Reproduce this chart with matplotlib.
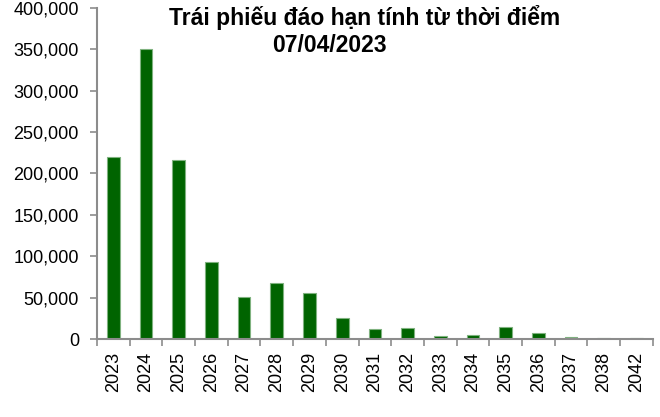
import numpy as np
import matplotlib.pyplot as plt
from matplotlib.ticker import FuncFormatter

plt.rcParams['font.family'] = ['Liberation Sans', 'DejaVu Sans']

# du lieu doc tu hinh
years = ['2023', '2024', '2025', '2026', '2027', '2028', '2029', '2030', '2031',
         '2032', '2033', '2034', '2035', '2036', '2037', '2038', '2042']
values = [219500, 350000, 216600, 93400, 50400, 67600, 55200, 25300, 11700,
          12900, 3200, 4800, 14500, 6900, 2400, 1000, 1000]
title_line1 = 'Trái phiếu đáo hạn tính từ thời điểm'
title_line2 = '07/04/2023'

bar_color = '#006400'
edge_color = '#7fb27f'
axis_color = '#8c8c8c'

fig = plt.figure(figsize=(6.6, 4.17), dpi=100)
ax = fig.add_axes([0.147, 0.187, 0.842, 0.794])

x = np.arange(len(years))
ax.bar(x, values, width=0.39, color=bar_color, edgecolor=edge_color, linewidth=0.8)

ax.set_xlim(-0.5, len(years) - 0.5)
ax.set_ylim(0, 400000)
ax.set_yticks(np.arange(0, 400001, 50000))
ax.yaxis.set_major_formatter(FuncFormatter(lambda v, p: f'{int(v):,}'))

# nhan o giua, vach chia o ranh gioi giua cac cot
ax.set_xticks(x)
ax.set_xticklabels(years, rotation=90)
ax.set_xticks(np.arange(-0.5, len(years)), minor=True)
ax.tick_params(axis='x', which='major', length=0, labelsize=13, pad=9)
ax.tick_params(axis='x', which='minor', length=5, width=1.2, color=axis_color)
ax.tick_params(axis='y', length=5, width=1.2, color=axis_color, labelsize=13, pad=8)

for s in ['top', 'right']:
    ax.spines[s].set_visible(False)
for s in ['left', 'bottom']:
    ax.spines[s].set_color(axis_color)
    ax.spines[s].set_linewidth(1.5)

fig.text(365 / 660, 1 - 17 / 417, title_line1, ha='center', va='center',
         fontsize=16.5, fontweight='bold')
fig.text(329 / 660, 1 - 45 / 417, title_line2, ha='center', va='center',
         fontsize=16.5, fontweight='bold')

plt.savefig('out.png', dpi=100)
